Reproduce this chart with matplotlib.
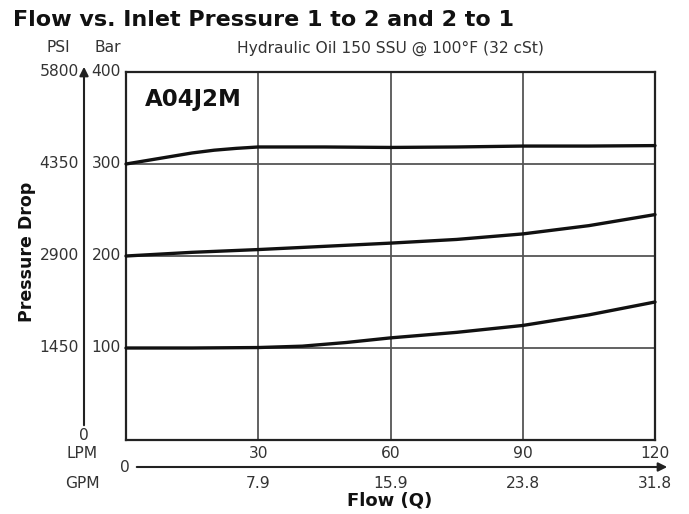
import matplotlib
matplotlib.use("Agg")
import matplotlib.pyplot as plt
from matplotlib.patches import FancyArrowPatch
from matplotlib.transforms import blended_transform_factory

plt.rcParams['font.family'] = ['DejaVu Sans']

# Flow (LPM) and pressure drop (bar) for the three relief settings
flow_high = [0, 5, 10, 15, 20, 25, 30, 45, 60, 75, 90, 105, 120]
drop_high = [300, 304, 308, 312, 315, 317, 318.5, 318.5, 318, 318.5, 319.5, 319.5, 320]

flow_mid = [0, 15, 30, 45, 60, 75, 90, 105, 120]
drop_mid = [200, 204, 207, 210.5, 214, 218, 224, 233, 245]

flow_low = [0, 15, 30, 40, 50, 60, 75, 90, 105, 120]
drop_low = [100, 100, 100.5, 102, 106, 111, 117, 124.5, 136, 150]

bar_ticks = [100, 200, 300, 400]
psi_labels = ["1450", "2900", "4350", "5800"]
lpm_ticks = [30, 60, 90, 120]
gpm_labels = ["7.9", "15.9", "23.8", "31.8"]

W, H = 689, 514
fig = plt.figure(figsize=(W / 100, H / 100), dpi=100)
fig.patch.set_facecolor("white")


def fx(px):
    return px / W


def fy(py):
    return 1 - py / H


L, R, T, B = 126, 655, 72, 440
ax = fig.add_axes([fx(L), fy(B), fx(R) - fx(L), fy(T) - fy(B)])
ax.set_xlim(0, 120)
ax.set_ylim(0, 400)
ax.set_xticks([])
ax.set_yticks([])
for s in ax.spines.values():
    s.set_color("#222222")
    s.set_linewidth(1.6)

grid_c = "#555555"
for v in [30, 60, 90]:
    ax.axvline(v, color=grid_c, lw=1.3, zorder=1)
for v in [100, 200, 300]:
    ax.axhline(v, color=grid_c, lw=1.3, zorder=1)

for xs, ys in [(flow_high, drop_high), (flow_mid, drop_mid), (flow_low, drop_low)]:
    ax.plot(xs, ys, color="#111111", lw=2.4, solid_capstyle="round",
            solid_joinstyle="round", zorder=3, clip_on=False)

ax.text((145 - L) / (R - L), 0.925, "A04J2M", transform=ax.transAxes,
        fontsize=16.5, fontweight="bold", ha="left", va="center", color="#111111")

txt_c = "#333333"
fs = 11.2
fig.text(fx(13), fy(20), "Flow vs. Inlet Pressure 1 to 2 and 2 to 1",
         fontsize=16, fontweight="bold", ha="left", va="center", color="#111111")
fig.text(fx(58), fy(48), "PSI", fontsize=fs, ha="center", va="center", color=txt_c)
fig.text(fx(108), fy(48), "Bar", fontsize=fs, ha="center", va="center", color=txt_c)
fig.text(fx(390), fy(48), "Hydraulic Oil 150 SSU @ 100\u00b0F (32 cSt)",
         fontsize=fs, ha="center", va="center", color=txt_c)

ty = blended_transform_factory(fig.transFigure, ax.transData)
for b, p in zip(bar_ticks, psi_labels):
    fig.text(fx(121), b, str(b), transform=ty, fontsize=fs,
             ha="right", va="center", color=txt_c)
    fig.text(fx(79), b, p, transform=ty, fontsize=fs,
             ha="right", va="center", color=txt_c)
fig.text(fx(84), fy(436), "0", fontsize=fs, ha="center", va="center", color=txt_c)

fig.text(fx(27), fy(252), "Pressure Drop", rotation=90, fontsize=12.5,
         fontweight="bold", ha="center", va="center", color="#111111")

# vertical pressure arrow
fig.add_artist(FancyArrowPatch(
    (fx(84), fy(428)), (fx(84), fy(64)), transform=fig.transFigure,
    arrowstyle="-|>", mutation_scale=13, lw=1.5, color="#222222"))

tx = blended_transform_factory(ax.transData, fig.transFigure)
fig.text(fx(82), fy(454), "LPM", fontsize=fs, ha="center", va="center", color=txt_c)
fig.text(fx(82), fy(484), "GPM", fontsize=fs, ha="center", va="center", color=txt_c)
for v in lpm_ticks:
    fig.text(v, fy(454), str(v), transform=tx, fontsize=fs,
             ha="center", va="center", color=txt_c)
for v, g in zip(lpm_ticks, gpm_labels):
    fig.text(v, fy(484), g, transform=tx, fontsize=fs,
             ha="center", va="center", color=txt_c)

fig.text(fx(125), fy(467), "0", fontsize=fs, ha="center", va="center", color=txt_c)
fig.add_artist(FancyArrowPatch(
    (fx(134), fy(467)), (fx(670), fy(467)), transform=fig.transFigure,
    arrowstyle="-|>", mutation_scale=13, lw=1.5, color="#222222"))

fig.text(fx(390), fy(500), "Flow (Q)", fontsize=13, fontweight="bold",
         ha="center", va="center", color="#111111")

fig.savefig("out.png", dpi=100, facecolor="white")
